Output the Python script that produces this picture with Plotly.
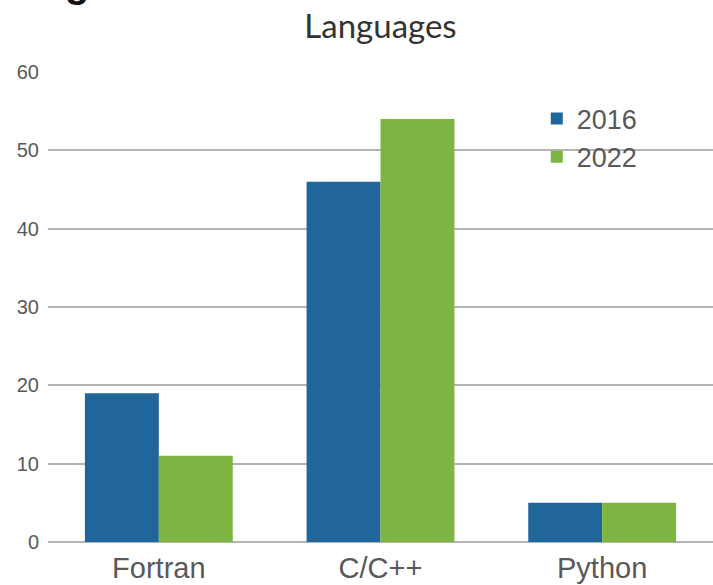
import plotly.graph_objects as go

categories = ["Fortran", "C/C++", "Python"]
values_2016 = [19, 46, 5]
values_2022 = [11, 54, 5]
series_names = ["2016", "2022"]
y_ticks = [0, 10, 20, 30, 40, 50, 60]

W, H = 713, 585
ML, MR, MT, MB = 48, 0, 72, 43

fig = go.Figure()
fig.add_trace(go.Bar(x=categories, y=values_2016, name=series_names[0],
                     marker=dict(color="#21669a", line=dict(width=0))))
fig.add_trace(go.Bar(x=categories, y=values_2022, name=series_names[1],
                     marker=dict(color="#7db543", line=dict(width=0))))

fig.update_layout(
    width=W, height=H,
    margin=dict(l=ML, r=MR, t=MT, b=MB, pad=0),
    paper_bgcolor="white", plot_bgcolor="white",
    barmode="group", bargap=0.333, bargroupgap=0,
    font=dict(family="Liberation Sans, Arial, sans-serif", color="#595959"),
    title=dict(text="Languages", x=0.5, xref="paper", xanchor="center",
               y=1 - 26 / H, yref="container", yanchor="middle",
               font=dict(family="Lato, sans-serif", size=33, color="#333333")),
    legend=dict(x=0.735, y=0.952, xanchor="left", yanchor="top",
                font=dict(size=27, color="#595959"),
                bgcolor="rgba(0,0,0,0)", itemwidth=30, tracegroupgap=0),
    showlegend=True,
)
fig.update_xaxes(showgrid=False, showline=False, ticks="", ticklabelstandoff=6,
                 tickfont=dict(size=29, color="#595959"))
fig.update_yaxes(range=[0, 60], tickvals=y_ticks, showgrid=True,
                 gridcolor="#b3b3b3", gridwidth=2, zeroline=True,
                 zerolinecolor="#b3b3b3", zerolinewidth=2, showline=False,
                 ticks="", ticklabelstandoff=8,
                 tickfont=dict(size=20, color="#595959"))

fig.add_annotation(text="<b>g</b>", xref="paper", yref="paper",
                   x=(77 - ML) / (W - ML - MR), y=(H - MB - 7) / (H - MT - MB),
                   xanchor="center", yanchor="bottom", showarrow=False,
                   font=dict(size=40, color="#111111", family="Liberation Sans, Arial"))

fig.write_html("out.html")
